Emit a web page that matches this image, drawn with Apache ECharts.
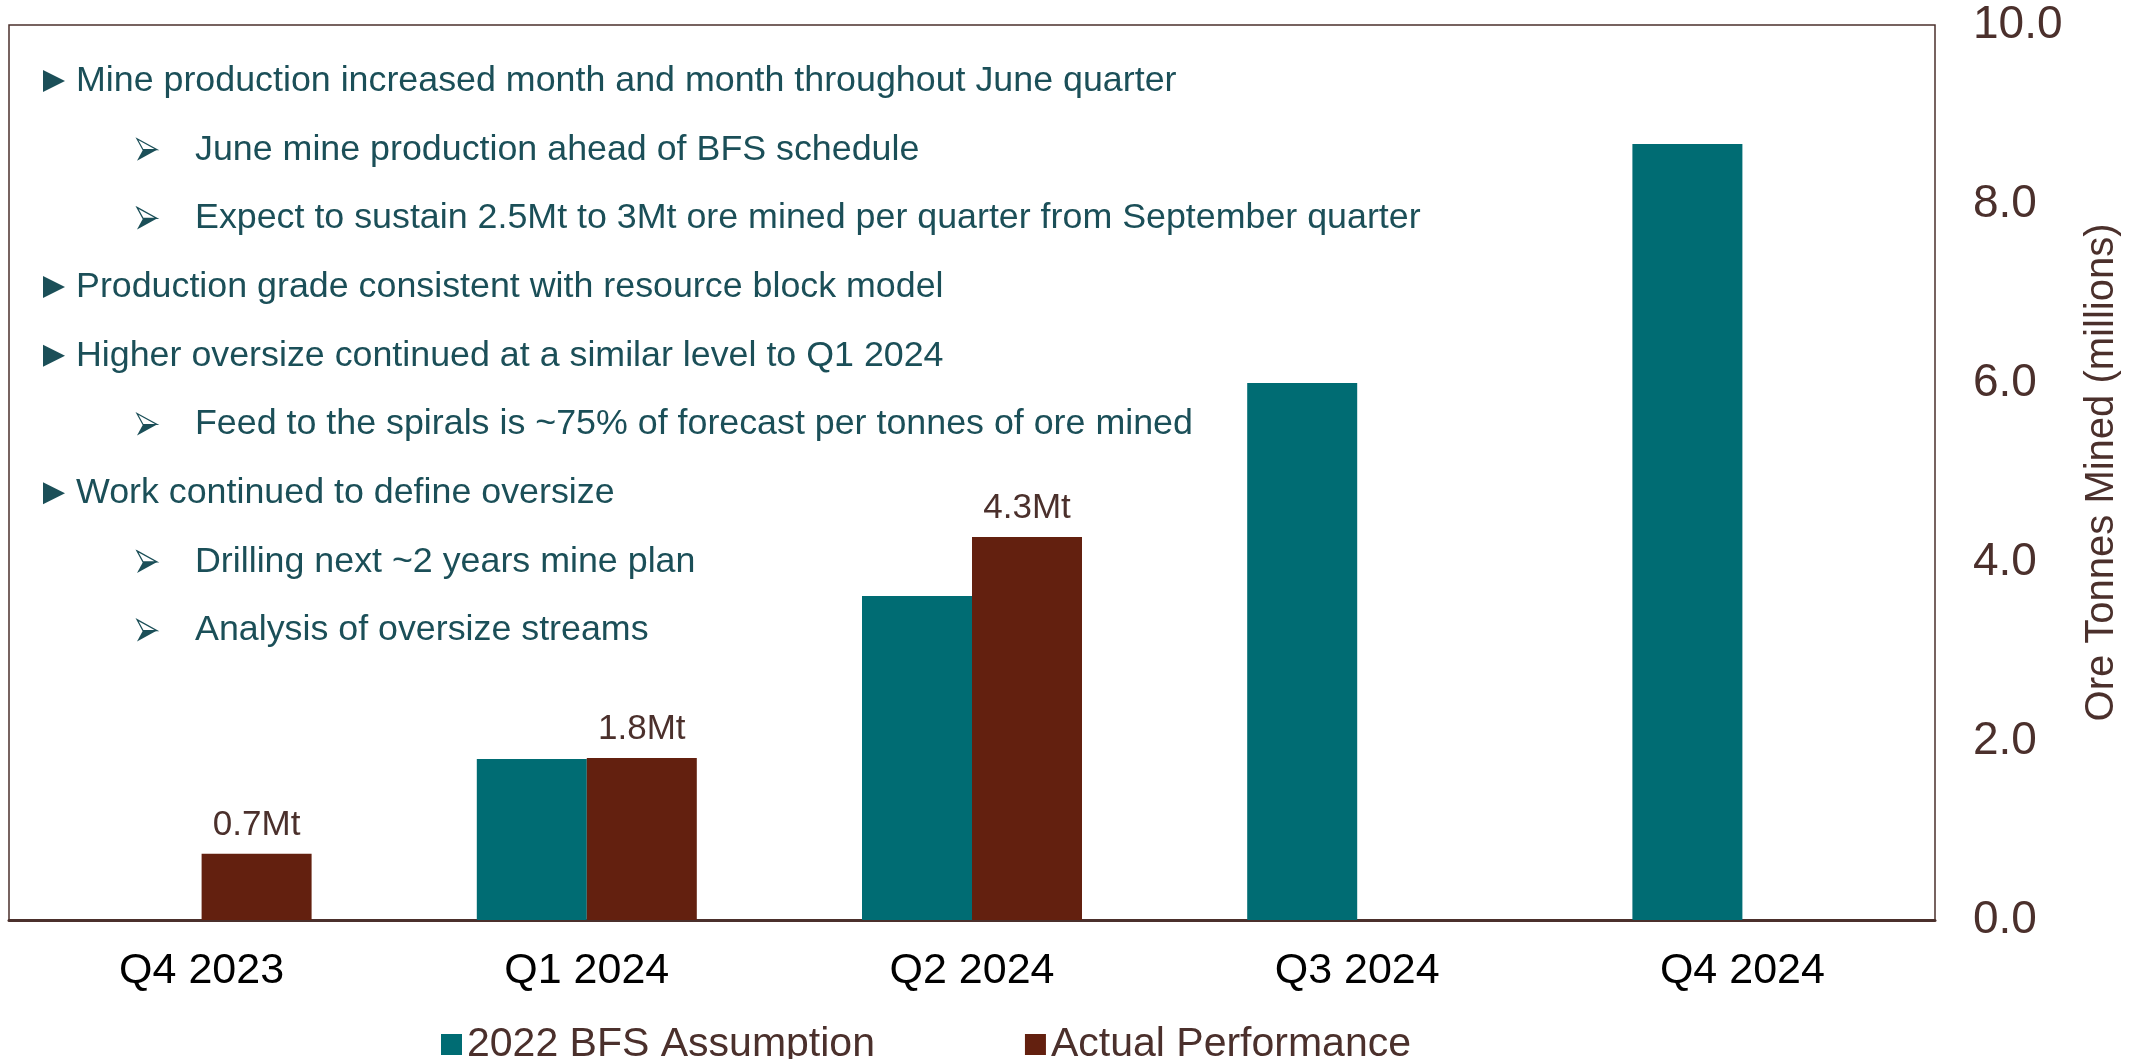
<!DOCTYPE html>
<html>
<head>
<meta charset="utf-8">
<script src="https://cdn.jsdelivr.net/npm/echarts@6/dist/echarts.min.js"></script>
<style>
  html, body { margin: 0; padding: 0; background: #fff; }
  #main { width: 2138px; height: 1059px; }
</style>
</head>
<body>
<div id="main"></div>
<script>
// chart data
var categories = ['Q4 2023', 'Q1 2024', 'Q2 2024', 'Q3 2024', 'Q4 2024'];
var bfsAssumption = [null, 1.80, 3.62, 6.0, 8.67];
var actualPerformance = [0.74, 1.81, 4.28, null, null];
var actualLabels = ['0.7Mt', '1.8Mt', '4.3Mt', '', ''];
var yTicks = [0, 2, 4, 6, 8, 10];

// commentary lines: [level, text]
var notes = [
    [0, 'Mine production increased month and month throughout June quarter'],
    [1, 'June mine production ahead of BFS schedule'],
    [1, 'Expect to sustain 2.5Mt to 3Mt ore mined per quarter from September quarter'],
    [0, 'Production grade consistent with resource block model'],
    [0, 'Higher oversize continued at a similar level to Q1 2024'],
    [1, 'Feed to the spirals is ~75% of forecast per tonnes of ore mined'],
    [0, 'Work continued to define oversize'],
    [1, 'Drilling next ~2 years mine plan'],
    [1, 'Analysis of oversize streams']
];

var teal = '#006c73';
var brown = '#63200f';
var darkBrown = '#4b302c';
var textTeal = '#1b4f58';
var font = '"Liberation Sans", Arial, sans-serif';

var graphics = [];
for (var i = 0; i < notes.length; i++) {
    var lvl = notes[i][0];
    var y = 81 + i * 68.7;
    if (lvl === 0) {
        // solid triangle bullet
        graphics.push({
            type: 'polygon',
            shape: { points: [[43, y - 11], [43, y + 11], [65, y]] },
            style: { fill: textTeal }
        });
    } else {
        // arrowhead bullet, two-tone
        graphics.push({
            type: 'polygon',
            shape: { points: [[137, y - 11], [157, y], [143, y]] },
            style: { fill: '#fff', stroke: textTeal, lineWidth: 1.2 }
        });
        graphics.push({
            type: 'polygon',
            shape: { points: [[137, y + 11], [157, y], [143, y]] },
            style: { fill: textTeal }
        });
    }
    graphics.push({
        type: 'text',
        x: lvl === 0 ? 76 : 195,
        y: y,
        style: {
            text: notes[i][1],
            fill: textTeal,
            font: '35.8px ' + font,
            textVerticalAlign: 'middle'
        }
    });
}

var myChart = echarts.init(document.getElementById('main'));
var option = {
    animation: false,
    backgroundColor: '#fff',
    grid: {
        show: true,
        left: 9,
        top: 25,
        right: 203,
        bottom: 139,
        borderColor: darkBrown,
        borderWidth: 1.5,
        containLabel: false
    },
    legend: {
        left: 436,
        top: 1019,
        itemWidth: 21,
        itemHeight: 21,
        itemGap: 150,
        icon: 'rect',
        textStyle: {
            color: darkBrown,
            fontSize: 41,
            fontFamily: font
        },
        data: ['2022 BFS Assumption', 'Actual Performance']
    },
    xAxis: {
        type: 'category',
        data: categories,
        axisLine: { show: true, lineStyle: { color: darkBrown, width: 3 } },
        axisTick: { show: false },
        axisLabel: {
            color: '#000',
            fontSize: 43,
            fontFamily: font,
            margin: 30
        }
    },
    yAxis: {
        type: 'value',
        position: 'right',
        min: yTicks[0],
        max: yTicks[yTicks.length - 1],
        interval: 2,
        name: 'Ore Tonnes Mined (millions)',
        nameLocation: 'middle',
        nameRotate: 90,
        nameGap: 147,
        nameTextStyle: {
            color: darkBrown,
            fontSize: 40,
            fontFamily: font
        },
        axisLine: { show: false },
        axisTick: { show: false },
        splitLine: { show: false },
        axisLabel: {
            color: darkBrown,
            fontSize: 46,
            fontFamily: font,
            margin: 38,
            align: 'left',
            formatter: function (v) { return v.toFixed(1); }
        }
    },
    series: [
        {
            name: '2022 BFS Assumption',
            type: 'bar',
            data: bfsAssumption,
            barWidth: 110,
            barGap: '0%',
            itemStyle: { color: teal }
        },
        {
            name: 'Actual Performance',
            type: 'bar',
            data: actualPerformance,
            barWidth: 110,
            itemStyle: { color: brown },
            label: {
                show: true,
                position: 'top',
                distance: 11,
                color: darkBrown,
                fontSize: 35,
                fontFamily: font,
                formatter: function (p) { return actualLabels[p.dataIndex]; }
            }
        }
    ],
    graphic: graphics
};
myChart.setOption(option);
</script>
</body>
</html>
